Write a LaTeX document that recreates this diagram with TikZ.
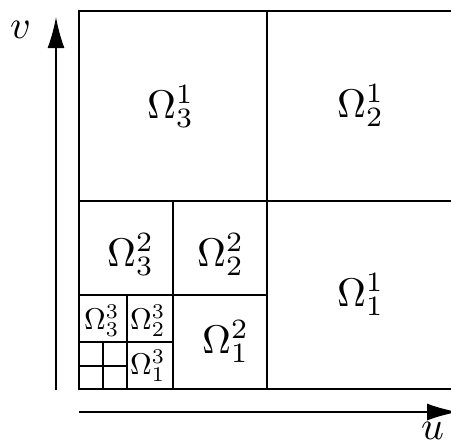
\documentclass[tikz,border=0pt]{standalone}
\usepackage{graphicx}
\usetikzlibrary{arrows.meta}
\newcommand\BigLab[1]{\scalebox{4}{$#1$}}
\newcommand\SmallLab[1]{\scalebox{3}{$#1$}}
\tikzset{
  grid/.style={line width=1.8pt, line cap=rect},
  axis/.style={line width=1.8pt, -{Latex[length=31pt,width=17pt]}},
  lab/.style={inner sep=0pt, anchor=base west}
}
\begin{document}
\begin{tikzpicture}[x=1pt,y=-1pt]
\useasboundingbox (0,0) rectangle (451,445);
% outer square and level 1
\draw[grid] (79,11) rectangle (457,389);
\draw[grid] (267,11) -- (267,389);
\draw[grid] (79,201) -- (457,201);
% level 2
\draw[grid] (173,201) -- (173,389);
\draw[grid] (79,295) -- (267,295);
% level 3
\draw[grid] (127,295) -- (127,389);
\draw[grid] (79,342) -- (173,342);
% level 4
\draw[grid] (103,342) -- (103,389);
\draw[grid] (79,366) -- (127,366);
% axes
\coordinate (vb) at (56,390);
\coordinate (vt) at (56,17);
\coordinate (ul) at (79,412);
\coordinate (ur) at (458,412);
\draw[axis] (vb) -- (vt);
\draw[axis] (ul) -- (ur);
\node[lab] (v) at (10,38) {\BigLab{v}};
\node[lab] (u) at (421,439) {\BigLab{u}};
% labels
\node[lab] (o31) at (147,118) {\BigLab{\Omega^1_3}};
\node[lab] (o21) at (337,117) {\BigLab{\Omega^1_2}};
\node[lab] (o11) at (337,306) {\BigLab{\Omega^1_1}};
\node[lab] (o32) at (107,266) {\BigLab{\Omega^2_3}};
\node[lab] (o22) at (197,266) {\BigLab{\Omega^2_2}};
\node[lab] (o12) at (202,353) {\BigLab{\Omega^2_1}};
\node[lab] (o33) at (84,329) {\SmallLab{\Omega^3_3}};
\node[lab] (o23) at (130,329) {\SmallLab{\Omega^3_2}};
\node[lab] (o13) at (130,374) {\SmallLab{\Omega^3_1}};
\end{tikzpicture}
\end{document}
